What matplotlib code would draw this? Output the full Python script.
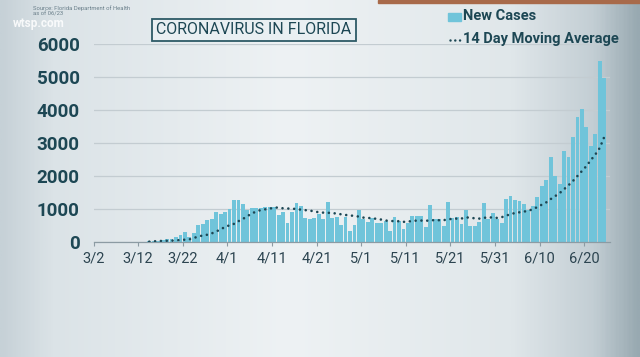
import matplotlib
matplotlib.use('Agg')
import matplotlib.pyplot as plt
from matplotlib.colors import LinearSegmentedColormap
from matplotlib.lines import Line2D
from matplotlib.patches import Rectangle
import numpy as np

# daily new cases, one value per day starting 3/2
new_cases = [
    0, 0, 1, 1, 1, 2, 3, 3, 2, 4, 6, 10, 15,
    30, 30, 40, 60, 80, 100, 140, 210, 290, 140, 280, 520, 540, 670, 710,
    900, 840, 910, 1010, 1270, 1280, 1150, 970, 1040, 1020, 1040, 1060,
    1060, 1050, 810, 920, 585, 915, 1185, 1100, 740, 710, 740, 860, 690,
    1210, 740, 770, 520, 770, 340, 520, 970, 710, 620, 740, 590, 570, 640,
    340, 760, 630, 380, 590, 790, 790, 790, 460, 1120, 690, 690, 470, 1200,
    720, 750, 560, 980, 500, 470, 610, 1190, 710, 870, 700, 590, 1290, 1400,
    1280, 1250, 1160, 960, 1090, 1360, 1690, 1880, 2570, 2000, 1760, 2760,
    2590, 3190, 3800, 4020, 3470, 2910, 3260, 5480, 4980,
]

# 14 day moving average (day index, value)
ma_days = [
    13, 15, 18, 20, 22, 23, 24, 26, 27, 28, 29, 30, 32, 33, 34, 35, 36, 37,
    38, 40, 41, 42, 43, 45, 46, 47, 49, 50, 51, 52, 54, 55, 56, 57, 59, 60,
    61, 62, 63, 64, 65, 66, 68, 69, 70, 71, 73, 74, 75, 76, 78, 79, 80, 82,
    83, 84, 85, 87, 88, 89, 90, 91, 92, 93, 94, 95, 97, 98, 99, 100, 101,
    102, 103, 104, 105, 106, 107, 108, 109, 110, 111, 112, 113, 114, 115,
]
ma_values = [
    10, 30, 40, 60, 80, 120, 170, 220, 260, 320, 380, 460, 550, 630, 700,
    780, 870, 920, 970, 1010, 1040, 1045, 1020, 1010, 1000, 980, 950, 930,
    900, 890, 880, 860, 840, 820, 790, 770, 740, 730, 720, 700, 680, 650,
    630, 630, 610, 620, 650, 650, 640, 660, 660, 660, 690, 710, 710, 750,
    730, 710, 730, 750, 740, 730, 750, 800, 840, 880, 920, 950, 990, 1060,
    1130, 1200, 1300, 1390, 1480, 1600, 1720, 1850, 2000, 2150, 2300, 2480,
    2650, 2850, 3180,
]

tick_labels = ['3/2', '3/12', '3/22', '4/1', '4/11', '4/21', '5/1', '5/11',
               '5/21', '5/31', '6/10', '6/20']
y_ticks = [0, 1000, 2000, 3000, 4000, 5000, 6000]

W, H = 640, 357
dark = '#1d4754'
bar_color = '#70c4da'


def px(x, y):
    """pixel position -> figure fraction"""
    return x / W, 1 - y / H


fig = plt.figure(figsize=(6.4, 3.57), dpi=100)

# background card gradient
bg = fig.add_axes([0, 0, 1, 1], zorder=-10)
bg.set_axis_off()
grad_cmap = LinearSegmentedColormap.from_list('card', [
    (0.0, '#c6d1d7'), (0.08, '#dbe3e7'), (0.45, '#eef2f4'),
    (0.8, '#e0e7ea'), (0.93, '#c3ced4'), (1.0, '#98a9b1'),
])
grad = np.tile(np.linspace(0, 1, 400), (40, 1))
bg.imshow(grad, cmap=grad_cmap, aspect='auto', extent=[0, 1, 0, 1])
bg.set_xlim(0, 1)
bg.set_ylim(0, 1)
# strip of the video frame behind the card
bg.add_patch(Rectangle((0.59, 0.992), 0.41, 0.008, color='#a86a4a'))

left, top = px(93.5, 44)
right, bottom = px(610, 242)
ax = fig.add_axes([left, bottom, right - left, top - bottom])
ax.set_facecolor('none')

days = np.arange(len(new_cases))
ax.bar(days - 0.5, new_cases, width=0.86, color=bar_color, zorder=2)
ax.plot(np.array(ma_days) - 0.5, ma_values, color=dark, lw=1.9,
        linestyle=(0, (0.01, 2.2)), dash_capstyle='round', zorder=3)

ax.set_xlim(0, 115.8)
ax.set_ylim(0, 6000)
ax.set_yticks(y_ticks)
ax.set_yticklabels([str(v) for v in y_ticks], fontsize=13.5,
                   fontweight='bold', color=dark, family='Roboto')
ax.set_xticks(np.arange(0, 10 * len(tick_labels), 10))
ax.set_xticklabels(tick_labels, fontsize=10.5, color='#2c4450',
                   family='Roboto')
ax.tick_params(axis='y', length=0, pad=10)
ax.tick_params(axis='x', length=3, width=0.8, color='#8c9ba3', pad=4)
ax.grid(axis='y', color='#c3ccd1', lw=0.9, zorder=0)
for side in ('top', 'right', 'left'):
    ax.spines[side].set_visible(False)
ax.spines['bottom'].set_color('#8c9ba3')
ax.spines['bottom'].set_linewidth(0.9)

# title box
tx, ty = px(254, 30)
fig.text(tx, ty, 'CORONAVIRUS IN FLORIDA', ha='center', va='center',
         fontsize=11.5, color=dark, family='Roboto',
         bbox=dict(boxstyle='square,pad=0.25', fc='#e9eff2', ec='#2d5a66',
                   lw=1.3))

# legend
x0, y0 = px(448, 20.5)
x1, y1 = px(461, 13.5)
fig.add_artist(Rectangle((x0, y0), x1 - x0, y1 - y0, color=bar_color,
                         transform=fig.transFigure))
fig.text(*px(463, 16), 'New Cases', ha='left', va='center', fontsize=10.5,
         fontweight='bold', color=dark, family='Roboto')
lx0, ly = px(450, 39.5)
lx1, _ = px(460, 39.5)
fig.add_artist(Line2D([lx0, lx1], [ly, ly], color=dark, lw=1.8,
                      linestyle=(0, (0.01, 1.9)), dash_capstyle='round',
                      transform=fig.transFigure))
fig.text(*px(463, 39), '14 Day Moving Average', ha='left', va='center',
         fontsize=10.5, fontweight='bold', color=dark, family='Roboto')

# source + watermark
fig.text(*px(33, 8), 'Source: Florida Department of Health', fontsize=4.2,
         color='#6a7f8a', va='center', family='Roboto')
fig.text(*px(33, 14), 'as of 06/23', fontsize=4.2, color='#6a7f8a',
         va='center', family='Roboto')
fig.text(*px(13, 23), 'wtsp.com', fontsize=8.5, color='white', alpha=0.85,
         fontweight='bold', va='center', family='Roboto')

fig.savefig('out.png', dpi=100)
